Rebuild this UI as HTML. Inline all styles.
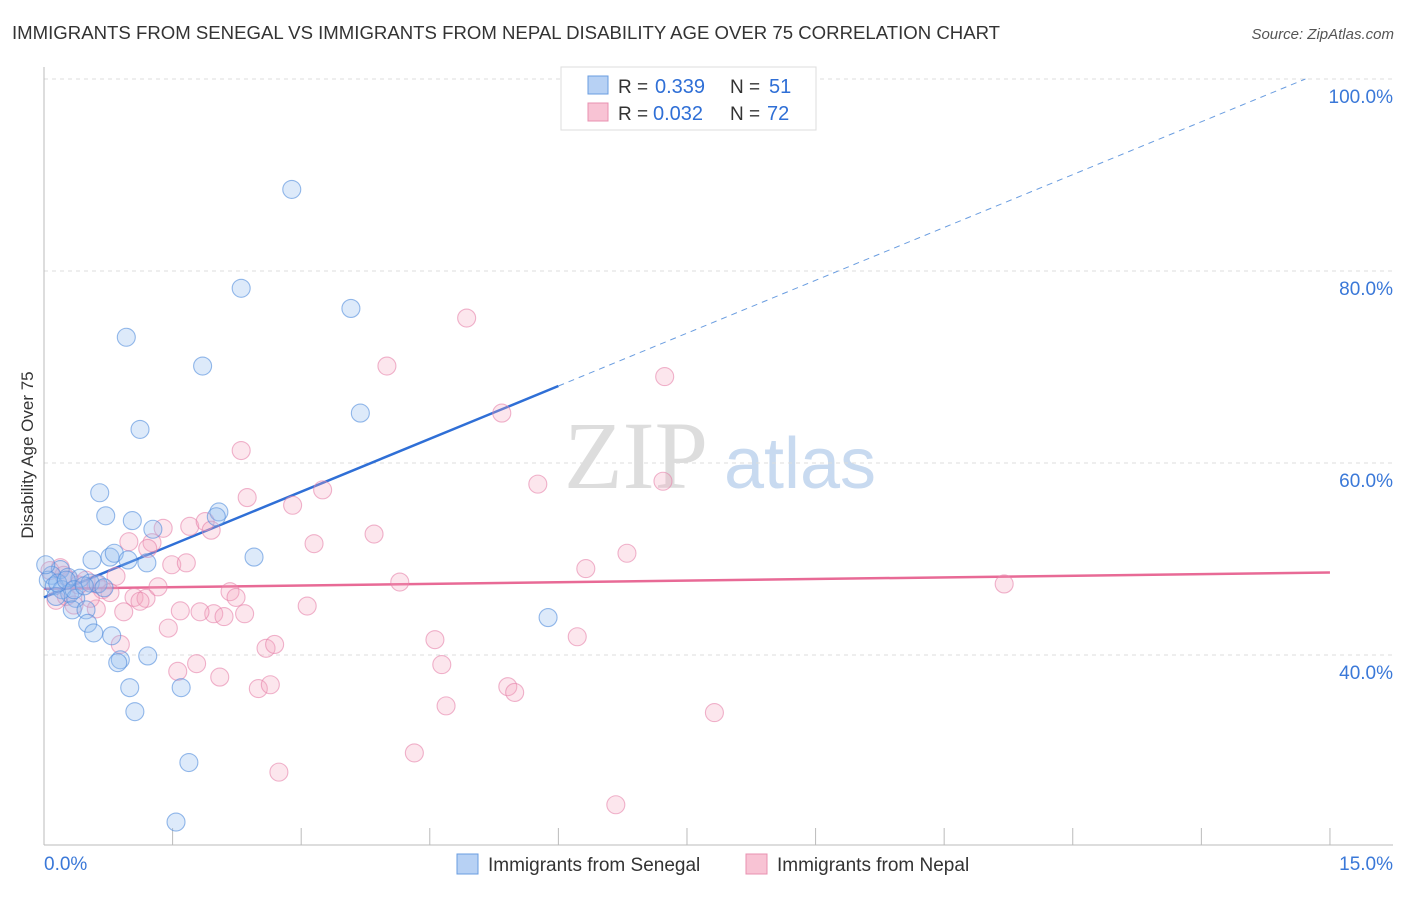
<!DOCTYPE html>
<html><head><meta charset="utf-8"><style>
body{margin:0;background:#fff;}
svg text{font-family:"Liberation Sans",sans-serif;}
</style></head><body>
<svg width="1406" height="892" xmlns="http://www.w3.org/2000/svg">
<text x="12" y="39" font-size="18.6" fill="#333">IMMIGRANTS FROM SENEGAL VS IMMIGRANTS FROM NEPAL DISABILITY AGE OVER 75 CORRELATION CHART</text>
<text x="1394" y="39" font-size="15" fill="#555" font-style="italic" text-anchor="end">Source: ZipAtlas.com</text>
<g>
<text x="636" y="488" font-size="96" fill="#ddd" text-anchor="middle" style="font-family:'Liberation Serif',serif">ZIP</text>
<text x="800" y="488" font-size="72" fill="#c8daf0" text-anchor="middle">atlas</text>
</g>
<g id="grid"></g>
<g id="axes"></g>
<g id="lines"></g>
<g id="pts"></g>
<text x="33" y="455" font-size="17" fill="#333" text-anchor="middle" transform="rotate(-90 33 455)">Disability Age Over 75</text>
<g>
<rect x="561" y="67" width="255" height="63" fill="#fff" stroke="#ddd"/>
<rect x="588" y="76" width="20" height="18" fill="#b7d1f4" stroke="#6a9de0"/>
<rect x="588" y="103" width="20" height="18" fill="#f8c3d4" stroke="#e890b0"/>
<text x="618" y="93" font-size="19" fill="#333">R =</text>
<text x="655" y="93" font-size="20" fill="#2f6fd6">0.339</text>
<text x="730" y="93" font-size="19" fill="#333">N =</text>
<text x="769" y="93" font-size="20" fill="#2f6fd6">51</text>
<text x="618" y="120" font-size="19" fill="#333">R =</text>
<text x="653" y="120" font-size="20" fill="#2f6fd6">0.032</text>
<text x="730" y="120" font-size="19" fill="#333">N =</text>
<text x="767" y="120" font-size="20" fill="#2f6fd6">72</text>
</g>
<g>
<rect x="457" y="854" width="21" height="20" fill="#b7d1f4" stroke="#6a9de0"/>
<text x="488" y="871" font-size="19" fill="#333">Immigrants from Senegal</text>
<rect x="746" y="854" width="21" height="20" fill="#f8c3d4" stroke="#e890b0"/>
<text x="777" y="871" font-size="19" fill="#333">Immigrants from Nepal</text>
</g>
</svg>
<script>
const yTicks=[40,60,80,100];
const yTickLabels=["40.0%","60.0%","80.0%","100.0%"];
const xTicks=[0,1.5,3,4.5,6,7.5,9,10.5,12,13.5,15];
const blueX=[2.89,2.30,3.58,0.96,1.85,3.69,1.12,0.65,0.72,1.03,1.27,2.04,2.01,2.45,0.77,0.82,0.56,0.98,1.20,0.19,0.28,0.09,0.42,0.54,0.63,0.05,0.12,0.21,0.30,0.37,0.14,0.33,0.49,0.51,0.58,0.79,1.21,0.89,0.86,1.00,1.60,1.06,1.69,1.54,5.88,0.02,0.16,0.26,0.35,0.47,0.70];
const blueY=[88.5,78.2,76.1,73.1,70.1,65.2,63.5,56.9,54.5,54.0,53.1,54.9,54.4,50.2,50.2,50.6,49.9,49.9,49.6,48.9,48.1,48.3,48.0,47.5,47.4,47.8,47.2,46.8,46.4,45.9,46.1,44.7,44.7,43.3,42.3,42.0,39.9,39.5,39.2,36.6,36.6,34.1,28.8,22.6,43.9,49.4,47.5,47.8,46.8,47.2,47.0];
const pinkX=[4.93,4.00,7.24,5.34,2.30,5.76,7.22,2.37,3.25,2.90,1.39,1.70,1.88,1.95,3.85,3.15,1.26,0.99,1.21,6.80,1.49,1.66,6.32,0.84,4.15,11.20,0.19,0.07,0.23,0.30,0.40,0.49,0.61,0.68,0.77,1.05,1.19,1.33,2.17,2.24,0.93,0.61,1.59,1.98,2.10,2.34,3.07,1.45,0.89,2.59,2.69,4.56,6.22,1.56,1.78,2.05,2.50,2.64,4.64,5.41,5.49,4.69,7.82,4.32,2.74,6.67,0.14,0.26,0.54,1.12,1.82,0.35];
const pinkY=[75.1,70.1,69.0,65.2,61.3,57.8,58.1,56.4,57.2,55.6,53.2,53.4,53.9,53.0,52.6,51.6,51.7,51.8,51.1,50.6,49.4,49.6,49.0,48.2,47.6,47.4,49.1,48.8,48.3,47.8,47.3,47.8,47.4,46.8,46.5,46.0,45.9,47.1,46.6,46.0,44.5,44.8,44.6,44.3,44.0,44.3,45.1,42.8,41.1,40.7,41.1,41.6,41.9,38.3,39.1,37.7,36.5,36.9,39.0,36.7,36.1,34.7,34.0,29.8,27.8,24.4,45.7,46.1,45.9,45.6,44.5,45.2];
const blueFit=[46.0,3.67];
const pinkFit=[46.9,0.113];
const NS="http://www.w3.org/2000/svg";
const X=v=>44+v*85.73, Y=v=>1039-v*9.6;
function mk(p,t,a){const e=document.createElementNS(NS,t);for(const k in a)e.setAttribute(k,a[k]);document.getElementById(p).appendChild(e);return e;}
yTicks.forEach((t,i)=>{
 const g=mk('grid','line',{x1:44,x2:1393,y1:Y(t),y2:Y(t),stroke:'#ddd','stroke-dasharray':'4,4'});
 
 
 const l=mk('axes','text',{x:1393,y:Y(t)+24,'font-size':19,fill:'#3a78d8','text-anchor':'end'});
 l.textContent=yTickLabels[i];
 
 
});
mk('axes','line',{x1:44,x2:44,y1:67,y2:845,stroke:'#bbb'});
mk('axes','line',{x1:44,x2:1393,y1:845,y2:845,stroke:'#bbb'});
xTicks.forEach(t=>{
 const k=mk('axes','line',{x1:X(t),x2:X(t),y1:828,y2:845,stroke:'#bbb'});
 
 
});
const x0=mk('axes','text',{x:44,y:870,'font-size':19,fill:'#3a78d8'});x0.textContent="0.0%";


const x1=mk('axes','text',{x:1393,y:870,'font-size':19,fill:'#3a78d8','text-anchor':'end'});x1.textContent="15.0%";


function pts(xs,ys,fill,stroke,name){xs.forEach((x,i)=>{
 const c=mk('pts','circle',{cx:X(x),cy:Y(ys[i]),r:9,fill:fill,stroke:stroke,'stroke-width':1.1});
 
 
});}
pts(pinkX,pinkY,'rgba(245,165,192,0.28)','rgba(230,130,170,0.6)','point-nepal');
pts(blueX,blueY,'rgba(150,190,240,0.32)','rgba(80,140,220,0.6)','point-senegal');
const xe=(100-blueFit[0])/blueFit[1];
const bl=mk('lines','line',{x1:X(0),y1:Y(blueFit[0]),x2:X(6),y2:Y(blueFit[0]+6*blueFit[1]),stroke:'#2f6fd6','stroke-width':2.5});


const bd=mk('lines','line',{x1:X(6),y1:Y(blueFit[0]+6*blueFit[1]),x2:X(xe),y2:Y(100),stroke:'#6a9de0','stroke-width':1,'stroke-dasharray':'6,5'});


const pl=mk('lines','line',{x1:X(0),y1:Y(pinkFit[0]),x2:X(15),y2:Y(pinkFit[0]+15*pinkFit[1]),stroke:'#e86a96','stroke-width':2.5});


</script>
</body></html>
